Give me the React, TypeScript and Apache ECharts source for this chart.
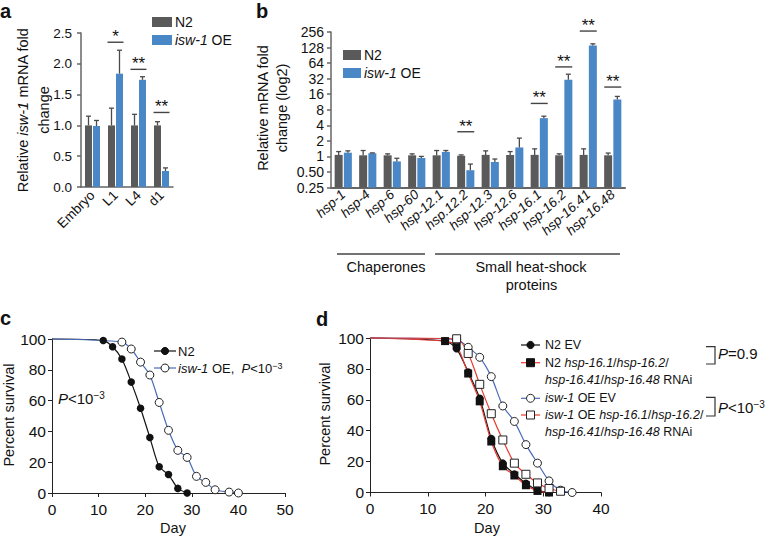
import React, { useEffect, useRef } from 'react';
import * as echarts from 'echarts';

const FF = '"Liberation Sans", Arial, Helvetica, sans-serif';
const GREY = '#5a5a5a';
const BLUE = '#4a87c6';
const LBLUE = '#4a6cba';
const RED = '#e8392f';
const AX = '#666';

// ---------- Panel a ----------
const stagesA = ['Embryo', 'L1', 'L4', 'd1'];
const n2A = [1.0, 1.0, 1.0, 1.0];
const n2AErr = [1.15, 1.28, 1.18, 1.06];
const oeA = [0.99, 1.84, 1.74, 0.26];
const oeAErr = [1.08, 2.22, 1.79, 0.31];
const sigAIdx = [1, 2, 3];
const sigAY = [2.35, 1.91, 1.21];
const sigAText = ['*', '**', '**'];

// ---------- Panel b ----------
const genesB = ['hsp-1', 'hsp-4', 'hsp-6', 'hsp-60', 'hsp-12.1', 'hsp.12.2', 'hsp-12.3', 'hsp-12.6', 'hsp-16.1', 'hsp-16.2', 'hsp-16.41', 'hsp-16.48'];
const n2B = [1.07, 1.05, 1.05, 1.05, 1.05, 1.03, 1.07, 1.07, 1.07, 1.05, 1.07, 1.05];
const n2BErr = [1.24, 1.3, 1.12, 1.12, 1.3, 1.07, 1.28, 1.24, 1.4, 1.12, 1.4, 1.16];
const oeB = [1.18, 1.15, 0.8, 0.93, 1.22, 0.54, 0.78, 1.49, 5.5, 30.5, 140, 12.7];
const oeBErr = [1.28, 1.17, 0.92, 1.0, 1.3, 0.71, 0.89, 2.26, 6.0, 39, 151, 14.5];
const sigBIdx = [5, 8, 9, 10, 11];
const sigBY = [3.0, 10.6, 54, 267, 22];
const sigBText = ['**', '**', '**', '**', '**'];
const tickLabelsB = ['0.25', '0.50', '1', '2', '4', '8', '16', '32', '64', '128', '256'];
const LOG_MIN_B = 0.25;

// ---------- Panel c ----------
const daysCN2 = [0, 11, 13, 15, 17, 19, 21, 23, 25, 27, 29];
const survCN2 = [100, 99, 95, 87, 72, 55, 36, 17, 12, 3, 0];
const daysCOE = [0, 15, 17, 19, 21, 23, 25, 27, 29, 31, 33, 35, 38, 40];
const survCOE = [100, 98, 93.5, 85, 76.6, 58.8, 40.7, 27.7, 23.1, 10.8, 6.9, 2.1, 0.6, 0];

// ---------- Panel d ----------
const daysDN2EV = [0, 13, 15, 17, 19, 21, 23, 25, 27, 29, 31];
const survDN2EV = [100, 98, 93, 78, 61, 35, 19, 12, 6, 1.5, 0];
const daysDN2RNAi = [0, 13, 15, 17, 19, 21, 23, 25, 27, 29, 31];
const survDN2RNAi = [100, 98, 95, 77, 59, 33, 17, 11, 4.7, 1, 0];
const daysDOEEV = [0, 15, 17, 19, 21, 23, 25, 27, 29, 31, 33, 35];
const survDOEEV = [100, 99, 94, 87.5, 75, 56, 46, 31, 19, 7.5, 1.5, 0];
const daysDOERNAi = [0, 15, 17, 19, 21, 23, 25, 27, 29, 31, 33];
const survDOERNAi = [100, 99.5, 90, 70, 51, 34, 19, 11.8, 6.2, 2.6, 0.8];

const tfB = (v: number) => Math.log2(v) - Math.log2(LOG_MIN_B);

const R = (size: number, lh?: number) => {
  const base: any = { fontSize: size, fontFamily: FF, fill: '#111' };
  if (lh) base.lineHeight = lh;
  return {
    n: { ...base },
    i: { ...base, fontStyle: 'italic' },
    s: { fontSize: Math.round(size * 0.68), fontFamily: FF, fill: '#111', verticalAlign: 'top', lineHeight: lh },
  };
};

function T(x: number, y: number, text: string, size: number, align = 'left', rot = 0, extra: any = {}, lh?: number) {
  return {
    type: 'text', x, y, rotation: rot, silent: true, z: 10,
    style: { text, fontSize: size, fontFamily: FF, fill: '#111', align, verticalAlign: 'middle', rich: R(size, lh), ...extra },
  };
}
function L(x1: number, y1: number, x2: number, y2: number, color = '#444', w = 1.3) {
  return { type: 'line', silent: true, z: 10, shape: { x1, y1, x2, y2 }, style: { stroke: color, lineWidth: w } };
}
function legendRow(y: number, color: string, sym: 'circle' | 'rect', filled: boolean, x1 = 521, x2 = 540) {
  const cx = (x1 + x2) / 2;
  const symStyle = filled ? { fill: '#111', stroke: '#111', lineWidth: 1 } : { fill: '#fff', stroke: '#222', lineWidth: 1 };
  const s = sym === 'circle'
    ? { type: 'circle', silent: true, z: 11, shape: { cx, cy: y, r: filled ? 3.6 : 4 }, style: symStyle }
    : { type: 'rect', silent: true, z: 11, shape: { x: cx - 4, y: y - 4, width: 8, height: 8 }, style: symStyle };
  return [L(x1, y, x2, y, color, 1.2), s];
}

const errSeries = (ai: number, tops: number[], errs: number[], offset: number, tf = (v: number) => v) => ({
  type: 'custom', xAxisIndex: ai, yAxisIndex: ai, clip: false, silent: true, z: 3,
  data: tops.map((t, i) => [i, tf(t), tf(errs[i])]),
  renderItem: (params: any, api: any) => {
    const p = api.coord([api.value(0), api.value(1)]);
    const e = api.coord([api.value(0), api.value(2)]);
    const x = p[0] + offset;
    return {
      type: 'group', children: [
        { type: 'line', shape: { x1: x, y1: p[1], x2: x, y2: e[1] }, style: { stroke: '#4a4a4a', lineWidth: 1.3 } },
        { type: 'line', shape: { x1: x - 2.5, y1: e[1], x2: x + 2.5, y2: e[1] }, style: { stroke: '#4a4a4a', lineWidth: 1.3 } },
      ],
    };
  },
});

const sigSeries = (ai: number, idx: number[], ys: number[], texts: string[], half: number, tf = (v: number) => v) => ({
  type: 'custom', xAxisIndex: ai, yAxisIndex: ai, clip: false, silent: true, z: 4,
  data: idx.map((c, i) => [c, tf(ys[i])]),
  renderItem: (params: any, api: any) => {
    const p = api.coord([api.value(0), api.value(1)]);
    return {
      type: 'group', children: [
        { type: 'line', shape: { x1: p[0] - half, y1: p[1], x2: p[0] + half, y2: p[1] }, style: { stroke: '#444', lineWidth: 1.4 } },
        { type: 'text', style: { text: texts[params.dataIndex], x: p[0], y: p[1] + 3, align: 'center', verticalAlign: 'bottom', fontSize: 17, fontFamily: FF, fill: '#111' } },
      ],
    };
  },
});

const lineData = (days: number[], surv: number[]) =>
  days.map((d, i) => (i === 0 ? { value: [d, surv[i]], symbol: 'none' } : [d, surv[i]]));

const lineSeries = (ai: number, days: number[], surv: number[], color: string, symbol: string, filled: boolean, size: number) => ({
  type: 'line', xAxisIndex: ai, yAxisIndex: ai, data: lineData(days, surv), smooth: 0.25, clip: false,
  symbol, symbolSize: size, showSymbol: true,
  lineStyle: { color, width: 1.2 },
  itemStyle: filled ? { color: '#111', borderColor: '#111', borderWidth: 0 } : { color: '#fff', borderColor: '#222', borderWidth: 1 },
});

const valueAxisBase = (labelSize: number, margin: number, color = AX, w = 1.5) => ({
  axisLine: { show: true, lineStyle: { color, width: w } },
  axisTick: { show: true, length: 4, lineStyle: { color, width: w } },
  axisLabel: { fontSize: labelSize, color: '#111', margin, fontFamily: FF },
  splitLine: { show: false },
});

function buildOption(): any {
  const graphics: any[] = [
    // panel letters
    T(0, 11, 'a', 20, 'left', 0, { fontWeight: 'bold' }),
    T(256, 11, 'b', 20, 'left', 0, { fontWeight: 'bold' }),
    T(0, 318, 'c', 20, 'left', 0, { fontWeight: 'bold' }),
    T(316, 319, 'd', 20, 'left', 0, { fontWeight: 'bold' }),
    // legend a
    { type: 'rect', silent: true, shape: { x: 152, y: 17, width: 20, height: 10 }, style: { fill: GREY } },
    T(175, 22, '{n|N2}', 14),
    { type: 'rect', silent: true, shape: { x: 152, y: 35, width: 20, height: 10 }, style: { fill: BLUE } },
    T(175, 40, '{i|isw-1}{n| OE}', 14),
    // legend b
    { type: 'rect', silent: true, shape: { x: 343, y: 50, width: 18, height: 10 }, style: { fill: GREY } },
    T(364, 55, '{n|N2}', 14),
    { type: 'rect', silent: true, shape: { x: 343, y: 68, width: 18, height: 10 }, style: { fill: BLUE } },
    T(364, 73, '{i|isw-1}{n| OE}', 14),
    // y names
    T(33, 110, '{n|Relative }{i|isw-1}{n| mRNA fold}\n{n|change}', 14.5, 'center', Math.PI / 2, {}, 21),
    T(272.5, 108, '{n|Relative mRNA fold}\n{n|change (log2)}', 14.5, 'center', Math.PI / 2, {}, 19),
    T(9, 415, '{n|Percent survival}', 14.5, 'center', Math.PI / 2),
    T(325, 414, '{n|Percent survival}', 14.5, 'center', Math.PI / 2),
    T(173, 528, '{n|Day}', 14.5, 'center'),
    T(487, 528, '{n|Day}', 14.5, 'center'),
    // group brackets b
    L(337, 254, 425, 254),
    L(435, 254, 620, 254),
    T(386, 267, '{n|Chaperones}', 14.5, 'center'),
    T(531, 267, '{n|Small heat-shock}', 14.5, 'center'),
    T(531.5, 285, '{n|proteins}', 14.5, 'center'),
    // c annotations
    ...legendRow(351, '#111', 'circle', true, 154, 176),
    T(178, 351, '{n|N2}', 13),
    ...legendRow(368, LBLUE, 'circle', false, 154, 176),
    T(178, 368, '{i|isw-1}{n| OE,  }{i|P}{n|<10}{s|−3}', 13),
    T(58, 398, '{i|P}{n|<10}{s|−3}', 15),
    // d legend
    ...legendRow(345, '#111', 'circle', true),
    T(545, 345, '{n|N2 EV}', 12.5),
    ...legendRow(362.7, RED, 'rect', true),
    T(545, 362.7, '{n|N2 }{i|hsp-16.1}{n|/}{i|hsp-16.2}{n|/}', 12.5),
    T(545, 380, '{i|hsp-16.41}{n|/}{i|hsp-16.48}{n| RNAi}', 12.5),
    ...legendRow(398.3, LBLUE, 'circle', false),
    T(545, 398.3, '{i|isw-1}{n| OE EV}', 12.5),
    ...legendRow(415, RED, 'rect', false),
    T(545, 415, '{i|isw-1}{n| OE }{i|hsp-16.1}{n|/}{i|hsp-16.2}{n|/}', 12.5),
    T(545, 431.7, '{i|hsp-16.41}{n|/}{i|hsp-16.48}{n| RNAi}', 12.5),
    { type: 'polyline', silent: true, shape: { points: [[706, 346.7], [715, 346.7], [715, 364], [706, 364]] }, style: { stroke: '#333', lineWidth: 1.2, fill: null } },
    T(718, 353, '{i|P}{n|=0.9}', 15),
    { type: 'polyline', silent: true, shape: { points: [[706, 397.3], [715, 397.3], [715, 416], [706, 416]] }, style: { stroke: '#333', lineWidth: 1.2, fill: null } },
    T(718, 407, '{i|P}{n|<10}{s|−3}', 15),
  ];

  return {
    animation: false,
    backgroundColor: '#fff',
    textStyle: { fontFamily: FF },
    grid: [
      { left: 81, top: 33, width: 92, height: 154, containLabel: false, outerBoundsMode: 'none' },
      { left: 331, top: 32, width: 294, height: 155.5, containLabel: false, outerBoundsMode: 'none' },
      { left: 52, top: 339, width: 233, height: 154, containLabel: false, outerBoundsMode: 'none' },
      { left: 370, top: 338, width: 231, height: 154.5, containLabel: false, outerBoundsMode: 'none' },
    ],
    xAxis: [
      {
        type: 'category', gridIndex: 0, data: stagesA,
        axisLine: { lineStyle: { color: AX, width: 1.5 } },
        axisTick: { alignWithLabel: true, length: 4, lineStyle: { color: AX, width: 1.5 } },
        axisLabel: { rotate: 45, interval: 0, fontSize: 13.5, color: '#111', margin: 6, fontFamily: FF },
      },
      {
        type: 'category', gridIndex: 1, data: genesB,
        axisLine: { lineStyle: { color: AX, width: 2 } },
        axisTick: { alignWithLabel: true, length: 4, lineStyle: { color: '#333', width: 1.3 } },
        axisLabel: { rotate: 42, interval: 0, fontSize: 13.5, fontStyle: 'italic', color: '#111', margin: 5, fontFamily: FF },
      },
      { type: 'value', gridIndex: 2, min: 0, max: 50, interval: 10, ...valueAxisBase(15.5, 8, '#222', 1) },
      { type: 'value', gridIndex: 3, min: 0, max: 40, interval: 10, ...valueAxisBase(15.5, 8, '#222', 1) },
    ],
    yAxis: [
      {
        type: 'value', gridIndex: 0, min: 0, max: 2.5, interval: 0.5, ...valueAxisBase(13.5, 9),
        axisLabel: { fontSize: 13.5, color: '#111', margin: 9, fontFamily: FF, formatter: (v: number) => v.toFixed(1) },
      },
      {
        type: 'value', gridIndex: 1, min: 0, max: 10, interval: 1, ...valueAxisBase(14, 7),
        axisLabel: { fontSize: 14, color: '#111', margin: 7, fontFamily: FF, formatter: (v: number) => tickLabelsB[Math.round(v)] },
      },
      { type: 'value', gridIndex: 2, min: 0, max: 100, interval: 20, ...valueAxisBase(15.5, 6, '#222', 1) },
      { type: 'value', gridIndex: 3, min: 0, max: 100, interval: 20, ...valueAxisBase(15.5, 6, '#222', 1) },
    ],
    series: [
      { type: 'bar', xAxisIndex: 0, yAxisIndex: 0, data: n2A, barWidth: 7, barGap: '15%', itemStyle: { color: GREY }, silent: true },
      { type: 'bar', xAxisIndex: 0, yAxisIndex: 0, data: oeA, barWidth: 7, barGap: '15%', itemStyle: { color: BLUE }, silent: true },
      errSeries(0, n2A, n2AErr, -4.0),
      errSeries(0, oeA, oeAErr, 4.0),
      sigSeries(0, sigAIdx, sigAY, sigAText, 8),

      { type: 'bar', xAxisIndex: 1, yAxisIndex: 1, data: n2B.map(tfB), barWidth: 8, barGap: '15%', itemStyle: { color: GREY }, silent: true },
      { type: 'bar', xAxisIndex: 1, yAxisIndex: 1, data: oeB.map(tfB), barWidth: 8, barGap: '15%', itemStyle: { color: BLUE }, silent: true },
      errSeries(1, n2B, n2BErr, -4.6, tfB),
      errSeries(1, oeB, oeBErr, 4.6, tfB),
      sigSeries(1, sigBIdx, sigBY, sigBText, 8.5, tfB),

      lineSeries(2, daysCN2, survCN2, '#111', 'circle', true, 7.5),
      lineSeries(2, daysCOE, survCOE, LBLUE, 'circle', false, 8),

      lineSeries(3, daysDN2EV, survDN2EV, '#111', 'circle', true, 7.5),
      lineSeries(3, daysDN2RNAi, survDN2RNAi, RED, 'rect', true, 8),
      lineSeries(3, daysDOEEV, survDOEEV, LBLUE, 'circle', false, 8),
      lineSeries(3, daysDOERNAi, survDOERNAi, RED, 'rect', false, 8),
    ],
    graphic: graphics,
  };
}

export default function App() {
  const ref = useRef<HTMLDivElement>(null);
  useEffect(() => {
    const chart = echarts.init(ref.current!, null, { renderer: 'svg' });
    chart.setOption(buildOption());
    return () => chart.dispose();
  }, []);
  return (
    <div
      ref={ref}
      style={{ position: 'fixed', left: 0, top: 0, width: 766, height: 536, background: '#fff' }}
    />
  );
}
